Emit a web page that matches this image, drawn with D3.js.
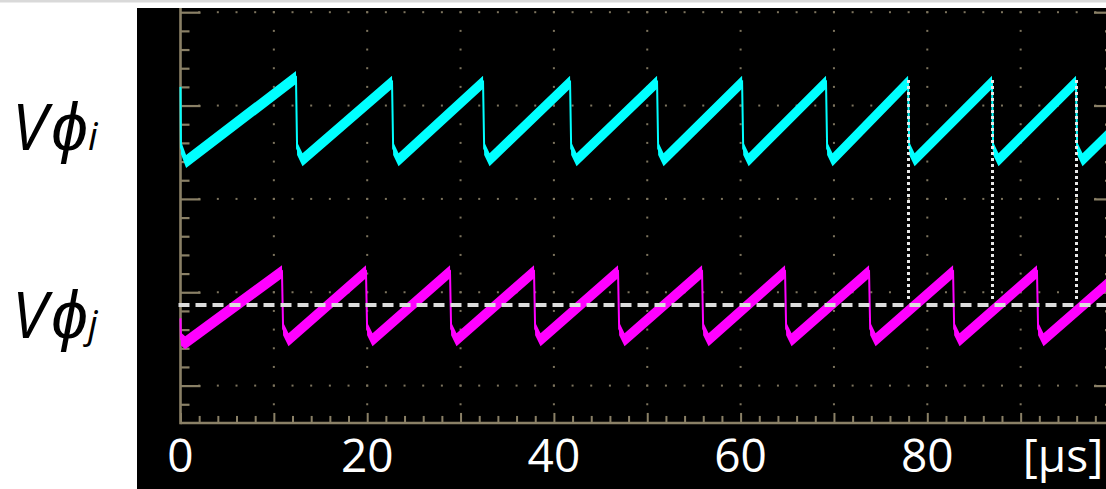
<!DOCTYPE html>
<html><head><meta charset="utf-8">
<script src="https://cdn.jsdelivr.net/npm/d3@7/dist/d3.min.js"></script>
<style>html,body{margin:0;padding:0;background:#fff;overflow:hidden}</style>
</head><body>
<script>
// ---- data (time in µs, level in screen divisions) ----
const xTickValues = [0, 20, 40, 60, 80];
const xTickLabels = ["0", "20", "40", "60", "80"];
const unitLabel = "[\u03bcs]";

// Vϕi (cyan) key points
const cyanStartT = [0, 0.05, 0.6];
const cyanStartV = [3.20, 2.55, 2.40];
const cyanPeakT = [12.37, 22.66, 32.41, 41.73, 51.05, 60.16, 69.15, 77.94, 86.93, 95.93];
const cyanPeakV = [3.30, 3.25, 3.25, 3.25, 3.25, 3.25, 3.25, 3.25, 3.25, 3.25];
const cyanTroughV = [2.42, 2.42, 2.42, 2.42, 2.42, 2.42, 2.42, 2.42, 2.42, 2.42];
const cyanEnd = [99.2, 2.67];

// Vϕj (magenta) key points
const magStartT = [0, 0.05, 0.5];
const magStartV = [0.72, 0.50, 0.46];
const magPeakT = [10.87, 19.87, 28.87, 37.87, 46.87, 55.87, 64.76, 73.76, 82.76, 91.75];
const magPeakV = [1.22, 1.22, 1.22, 1.22, 1.22, 1.22, 1.22, 1.22, 1.22, 1.22];
const magTroughV = [0.49, 0.49, 0.49, 0.49, 0.49, 0.49, 0.49, 0.49, 0.49, 0.49];
const magEnd = [99.2, 1.08];

// reference level and timing markers
const refLevel = 0.863;
const markerT = [77.94, 86.93, 95.93];
const markerTopV = 3.27;

// ---- drawing ----
const W = 1106, H = 489;
const svg = d3.select("body").append("svg").attr("width", W).attr("height", H);
svg.append("rect").attr("width", W).attr("height", H).attr("fill", "#fff");
svg.append("rect").attr("x", 0).attr("y", 0).attr("width", W).attr("height", 2.5).attr("fill", "#d9d9d9");
svg.append("rect").attr("x", 137).attr("y", 8).attr("width", W - 137).attr("height", H - 8).attr("fill", "#000");

const x = d3.scaleLinear().domain([0, 100]).range([180.5, 1114]);
const y = d3.scaleLinear().domain([0, 4]).range([385.6, 12.2]);
const axisY = y(-0.4);
const axisCol = "#8a8066";

// grid dots
const g = svg.append("g");
const dots = [];
for (let v = 0; v <= 4; v++) for (let t = 2; t < 100; t += 2) dots.push([t, v]);
for (let t = 10; t < 100; t += 10) for (let k = -1; k <= 20; k++) dots.push([t, k * 0.2]);
g.selectAll("rect.dot").data(dots).join("rect")
  .attr("x", d => x(d[0]) - 1).attr("y", d => y(d[1]) - 1)
  .attr("width", 2).attr("height", 2).attr("fill", "#7d745e");

// axes
const vTicks = d3.range(-1, 21).map(k => +(k * 0.2).toFixed(2));
const isMajV = v => Math.abs(v - Math.round(v)) < 1e-6;
const left = svg.append("g").attr("transform", `translate(${x(0)},0)`)
  .call(d3.axisRight(y).tickValues(vTicks).tickFormat("").tickSizeOuter(0));
const right = svg.append("g").attr("transform", `translate(${x(100)},0)`)
  .call(d3.axisLeft(y).tickValues(vTicks).tickFormat("").tickSizeOuter(0));
[left, right].forEach((ax, i) => {
  ax.select(".domain").remove();
  ax.selectAll(".tick line").attr("stroke", axisCol).attr("stroke-width", 2.2)
    .attr("x2", d => (i === 0 ? 1 : -1) * (isMajV(d) ? 20 : 9));
});
const tTicks = d3.range(0, 101, 2);
const bottom = svg.append("g").attr("transform", `translate(0,${axisY})`)
  .call(d3.axisTop(x).tickValues(tTicks).tickFormat("").tickSizeOuter(0));
bottom.select(".domain").remove();
bottom.selectAll(".tick line").attr("stroke", axisCol).attr("stroke-width", 2)
  .attr("y2", d => d % 10 === 0 ? -10 : -7);
svg.append("line").attr("x1", x(0)).attr("x2", W).attr("y1", axisY).attr("y2", axisY)
  .attr("stroke", axisCol).attr("stroke-width", 2.6);
svg.append("line").attr("x1", x(0)).attr("x2", x(0)).attr("y1", 8).attr("y2", axisY + 1.3)
  .attr("stroke", axisCol).attr("stroke-width", 2.6);

// traces
function buildPoints(startT, startV, peakT, peakV, troughV, end) {
  const pts = startT.map((t, i) => [t, startV[i]]);
  peakT.forEach((t, i) => {
    pts.push([t, peakV[i]]);
    pts.push([t + 0.12, troughV[i] + 0.12]);
    pts.push([t + 0.7, troughV[i]]);
  });
  pts.push(end);
  return pts;
}
const half = 6.5 / 93.35;
function drawTrace(pts, col) {
  const area = d3.area().x(d => x(d[0])).y0(d => y(d[1] - half)).y1(d => y(d[1] + half));
  svg.append("path").datum(pts).attr("d", area).attr("fill", col);
  svg.append("path").datum(pts).attr("d", d3.line().x(d => x(d[0])).y(d => y(d[1])))
    .attr("fill", "none").attr("stroke", col).attr("stroke-width", 2);
}
drawTrace(buildPoints(cyanStartT, cyanStartV, cyanPeakT, cyanPeakV, cyanTroughV, cyanEnd), "#00ffff");
drawTrace(buildPoints(magStartT, magStartV, magPeakT, magPeakV, magTroughV, magEnd), "#ff00ff");

// markers
svg.selectAll("line.mk").data(markerT).join("line")
  .attr("x1", d => Math.round(x(d)) + 0.5).attr("x2", d => Math.round(x(d)) + 0.5)
  .attr("y1", Math.round(y(markerTopV))).attr("y2", y(refLevel) - 4)
  .attr("stroke", "#e8e8e8").attr("stroke-width", 3).attr("stroke-dasharray", "3,3")
  .attr("shape-rendering", "crispEdges");
svg.append("line").attr("x1", x(0) - 2).attr("x2", W).attr("y1", y(refLevel)).attr("y2", y(refLevel))
  .attr("stroke", "#dcdcdc").attr("stroke-width", 4).attr("stroke-dasharray", "11,6");

// labels
svg.selectAll("text.xt").data(xTickValues).join("text")
  .attr("x", d => x(d)).attr("y", 472).attr("text-anchor", "middle")
  .attr("font-family", "'Open Sans', sans-serif").attr("font-size", 46).attr("fill", "#fff")
  .text((d, i) => xTickLabels[i]);
svg.append("text").attr("x", 1063).attr("y", 472).attr("text-anchor", "middle")
  .attr("font-family", "'Open Sans', sans-serif").attr("font-size", 46).attr("fill", "#fff")
  .text(unitLabel);

function yLabel(sub, base) {
  const t = svg.append("text").attr("x", 12).attr("y", base)
    .attr("font-family", "'Open Sans', sans-serif").attr("font-style", "italic").attr("fill", "#000");
  t.append("tspan").attr("font-size", 64).text("V");
  t.append("tspan").attr("font-size", 66).attr("dx", 4).text("\u03d5");
  t.append("tspan").attr("font-size", 38).attr("dx", 0).text(sub);
}
yLabel("i", 150);
yLabel("j", 338);
</script>
</body></html>
